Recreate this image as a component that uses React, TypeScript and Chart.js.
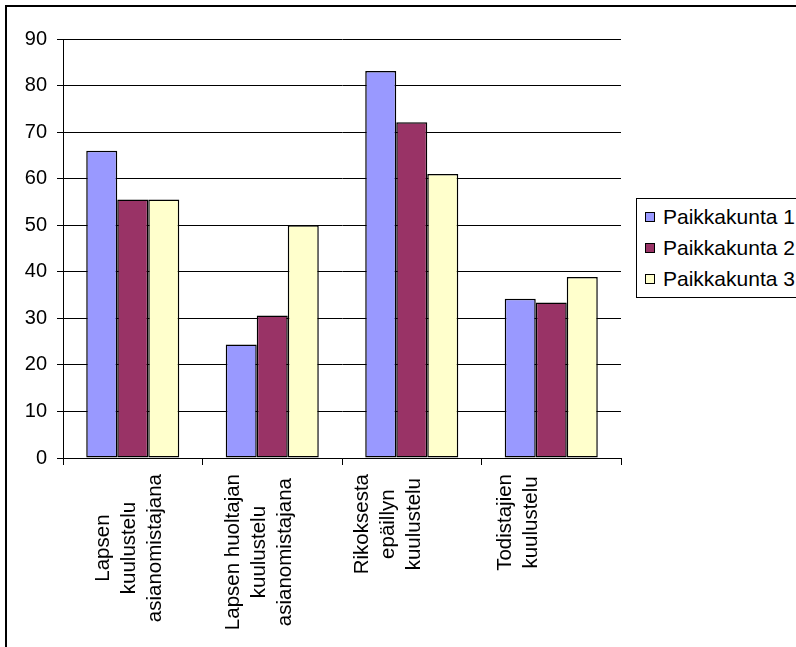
import React, { useEffect, useRef } from "react";
import { Chart, registerables } from "chart.js";

Chart.register(...registerables);

const categories: string[][] = [
  ["Lapsen", "kuulustelu", "asianomistajana"],
  ["Lapsen huoltajan", "kuulustelu", "asianomistajana"],
  ["Rikoksesta", "epäillyn", "kuulustelu"],
  ["Todistajien", "kuulustelu"],
];
const seriesNames = ["Paikkakunta 1", "Paikkakunta 2", "Paikkakunta 3"];
const paikkakunta1 = [66, 24.4, 83.1, 34.2];
const paikkakunta2 = [55.5, 30.6, 72.1, 33.4];
const paikkakunta3 = [55.5, 50, 61, 38.9];
const seriesColors = ["#9999FF", "#993366", "#FFFFCC"];
const yMin = 0;
const yMax = 90;
const yStep = 10;

const FONT = '"Liberation Sans", Arial, sans-serif';

if (typeof document !== "undefined") {
  document.body.style.margin = "0";
  document.body.style.overflow = "hidden";
}

const xLabelPlugin = {
  id: "xLabels",
  afterDraw(chart: any) {
    const ctx = chart.ctx as CanvasRenderingContext2D;
    const xs = chart.scales.x;
    const area = chart.chartArea;
    ctx.save();
    ctx.font = `20.5px ${FONT}`;
    ctx.fillStyle = "#000";
    ctx.textAlign = "center";
    ctx.textBaseline = "middle";
    const first = xs.getPixelForValue(0);
    categories.forEach((lines, i) => {
      const px = xs.getPixelForValue(i);
      const cx = first - 3 + (px - first) * 0.928;
      const maxW = Math.max(...lines.map((l) => ctx.measureText(l).width));
      const cy = area.bottom + 16 + maxW / 2;
      lines.forEach((line, j) => {
        const lx = cx + (j - (lines.length - 1) / 2) * 26;
        ctx.save();
        ctx.translate(lx, cy);
        ctx.rotate(-Math.PI / 2);
        ctx.fillText(line, 0, 0);
        ctx.restore();
      });
    });
    ctx.restore();
  },
};

export default function App() {
  const canvasRef = useRef<HTMLCanvasElement | null>(null);

  useEffect(() => {
    const canvas = canvasRef.current;
    if (!canvas) return;
    const values = [paikkakunta1, paikkakunta2, paikkakunta3];
    const chart = new Chart(canvas, {
      type: "bar",
      data: {
        labels: categories.map((c) => c.join(" ")),
        datasets: values.map((v, k) => ({
          label: seriesNames[k],
          data: v,
          backgroundColor: seriesColors[k],
          borderColor: "#000",
          borderWidth: 1.5,
          borderSkipped: false,
          barPercentage: 1,
          categoryPercentage: 0.667,
        })),
      },
      options: {
        responsive: false,
        maintainAspectRatio: false,
        animation: false,
        events: [],
        layout: { padding: { top: 39, right: 175, bottom: 0, left: 0 } },
        plugins: {
          legend: { display: false },
          tooltip: { enabled: false },
        },
        scales: {
          x: {
            type: "category",
            offset: true,
            grid: {
              display: true,
              offset: true,
              drawOnChartArea: false,
              drawTicks: true,
              tickLength: 7,
              color: "#000",
              lineWidth: 1,
            },
            border: { display: true, color: "#000", width: 1 },
            ticks: { display: false },
            afterFit: (s: any) => {
              s.height = 189;
            },
          },
          y: {
            min: yMin,
            max: yMax,
            ticks: {
              stepSize: yStep,
              color: "#000",
              font: { size: 20, family: FONT },
              padding: 10,
            },
            grid: {
              color: "#000",
              lineWidth: 1,
              tickLength: 6,
              drawTicks: true,
            },
            border: { display: true, color: "#000", width: 1 },
            afterFit: (s: any) => {
              s.width = 63;
            },
          },
        },
      },
      plugins: [xLabelPlugin],
    });
    return () => chart.destroy();
  }, []);

  const rowCenters = [217, 248, 279];

  return (
    <div
      style={{
        position: "relative",
        width: 796,
        height: 647,
        overflow: "hidden",
        background: "#fff",
        fontFamily: FONT,
      }}
    >
      <canvas
        ref={canvasRef}
        width={796}
        height={647}
        style={{ position: "absolute", left: 0, top: 0, width: 796, height: 647 }}
      />
      <div
        style={{
          position: "absolute",
          left: 5,
          top: 5,
          width: 1000,
          height: 1000,
          border: "2px solid #000",
          boxSizing: "border-box",
          pointerEvents: "none",
        }}
      />
      <div
        style={{
          position: "absolute",
          left: 636,
          top: 198,
          width: 300,
          height: 100,
          border: "1px solid #000",
          boxSizing: "border-box",
          background: "#fff",
        }}
      />
      {seriesNames.map((name, k) => (
        <div
          key={name}
          style={{
            position: "absolute",
            left: 645,
            top: rowCenters[k] - 12,
            height: 24,
            display: "flex",
            alignItems: "center",
            whiteSpace: "nowrap",
            fontSize: 21,
            lineHeight: "24px",
            color: "#000",
          }}
        >
          <span
            style={{
              display: "inline-block",
              width: 10,
              height: 10,
              border: "1px solid #000",
              background: seriesColors[k],
              marginRight: 8,
              boxSizing: "border-box",
            }}
          />
          <span>{name}</span>
        </div>
      ))}
    </div>
  );
}
